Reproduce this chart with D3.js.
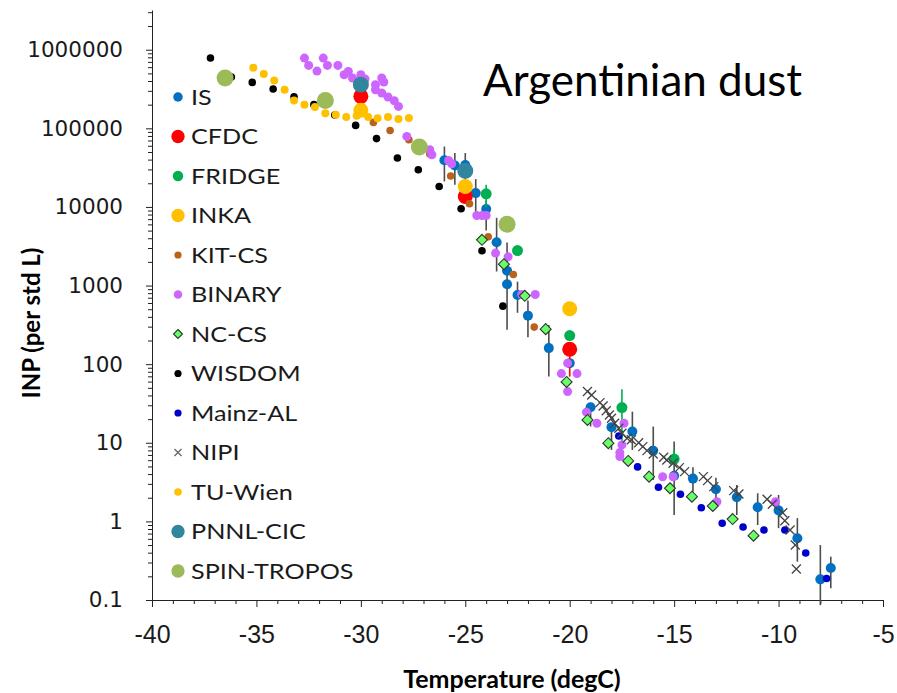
<!DOCTYPE html>
<html>
<head>
<meta charset="utf-8">
<script src="https://cdn.jsdelivr.net/npm/d3@7"></script>
<style>
  body { margin: 0; background: #fff; }
  svg { display: block; }
</style>
</head>
<body>
<div id="chart"></div>
<script>
// [temperature degC, INP per std L]
const isData = [[-26.0,39300],[-25.5,33700],[-25.0,34100],[-24.5,15000],[-24.0,9400],[-23.5,3550],[-23.0,1540],[-23.0,1040],[-22.5,760],[-22.0,414],[-21.0,160],[-20.0,103],[-19.0,28.3],[-18.0,15.8],[-17.0,13.9],[-16.0,7.9],[-15.0,3.8],[-14.1,3.5],[-13.0,2.57],[-12.0,2.03],[-11.0,1.51],[-10.0,1.38],[-9.1,0.61],[-8.0,0.183],[-7.5,0.255]];
// [temperature, low, high]
const isErr = [[-26.0,21100,58700],[-25.5,19100,48400],[-25.0,18000,48400],[-24.5,8350,22600],[-24.0,5000,12000],[-23.5,1510,7280],[-23.0,273,3520],[-22.5,450,1120],[-22.0,220,644],[-21.0,69.5,316],[-19.0,16.1,28.6],[-18.0,8.1,15.8],[-17.0,8.1,24.9],[-16.0,3.37,16.1],[-15.0,1.21,10.4],[-14.1,2.39,4.89],[-13.0,1.77,3.6],[-12.0,1.21,2.91],[-11.0,0.9,2.28],[-10.0,0.82,2.17],[-9.1,0.307,1.1],[-8.0,0.086,0.5],[-7.5,0.141,0.356]];
const cfdcData = [[-30.0,255000],[-25.0,13600],[-20.0,155]];
const cfdcErr = [[-20.0,69.5,155]];
const fridgeData = [[-24.0,14700],[-22.5,2790],[-20.0,231],[-17.5,28],[-15.0,6.2]];
const fridgeErr = [[-24.0,10000,19100],[-17.5,9.9,47.9],[-15.0,5.5,8.1]];
const inkaData = [[-30.0,170000],[-25.0,18200],[-20.0,506]];
const kitData = [[-29.4,119000],[-28.6,94000],[-27.7,71600],[-26.7,47100],[-25.7,24700],[-24.8,11000],[-23.9,4170],[-22.7,1380],[-21.7,296]];
const binaryData = [[-32.7,783000],[-32.5,631000],[-32.1,535000],[-31.8,783000],[-31.6,631000],[-31.1,631000],[-30.8,481000],[-30.6,530000],[-30.4,436000],[-30.0,481000],[-29.8,424000],[-29.3,359000],[-29.3,310000],[-29.0,436000],[-28.9,388000],[-29.0,281000],[-28.7,250000],[-28.4,224000],[-28.2,190000],[-27.8,78900],[-26.7,53300],[-26.6,46100],[-25.8,39000],[-25.65,35400],[-24.45,7780],[-24.2,7780],[-24.0,7780],[-23.55,2590],[-22.95,2320],[-22.3,769],[-21.65,769],[-20.1,103],[-20.4,75.9],[-19.65,75.9],[-20.1,44.8],[-19.2,24.5],[-18.7,17.7],[-17.4,17.7],[-17.5,9.4],[-17.6,7.5],[-17.6,6.7],[-15.55,3.7],[-15.05,3.7],[-12.95,1.78],[-10.15,1.78]];
const ncData = [[-24.2,3820],[-23.15,1870],[-22.15,740],[-21.15,279],[-20.15,59.4],[-19.15,19.5],[-18.15,9.87],[-17.2,5.87],[-16.2,3.71],[-15.2,2.64],[-14.15,2.06],[-13.15,1.57],[-12.2,1.07],[-11.2,0.658]];
const wisdomData = [[-37.2,783000],[-36.2,450000],[-35.2,384000],[-34.2,316000],[-33.2,252000],[-32.25,200000],[-31.25,148000],[-30.25,109000],[-29.25,74000],[-28.25,41900],[-27.25,29700],[-26.25,18200],[-25.2,9500],[-24.2,2770],[-23.2,547]];
const mainzData = [[-17.65,12.2],[-16.75,4.93],[-15.75,2.72],[-14.7,2.21],[-13.7,1.49],[-12.7,0.946],[-11.7,0.849],[-10.7,0.778],[-9.7,0.778],[-8.7,0.396],[-7.7,0.188]];
const nipiData = [[-19.15,44.8],[-18.95,40.6],[-18.55,32.4],[-18.4,29.4],[-18.25,25.6],[-18.1,22.6],[-18.0,20.5],[-17.85,17.7],[-17.65,15.3],[-17.5,13.2],[-17.25,11.4],[-17.05,10.9],[-16.7,10.0],[-16.5,8.93],[-16.3,7.94],[-16.0,7.21],[-15.5,6.55],[-15.35,6.05],[-15.05,5.5],[-14.75,4.83],[-14.5,4.3],[-13.6,3.71],[-13.4,3.3],[-13.1,2.77],[-12.15,2.46],[-11.9,2.23],[-10.55,1.91],[-10.3,1.65],[-9.8,1.29],[-9.7,1.02],[-9.45,0.778],[-9.2,0.501],[-9.15,0.248]];
const tuData = [[-35.15,590000],[-34.65,491000],[-34.15,407000],[-33.65,310000],[-33.2,226000],[-32.7,200000],[-32.2,187000],[-31.7,156000],[-31.2,149000],[-30.7,139000],[-30.2,144000],[-29.65,139000],[-29.2,134000],[-28.7,139000],[-28.2,131000],[-27.7,135000]];
const pnnlData = [[-30.0,359000],[-25.0,28800]];
const spinData = [[-36.5,437000],[-31.7,226000],[-27.2,57800],[-23.0,6010]];

const legendNames = ["IS","CFDC","FRIDGE","INKA","KIT-CS","BINARY","NC-CS","WISDOM","Mainz-AL","NIPI","TU-Wien","PNNL-CIC","SPIN-TROPOS"];
const xTicks = [-40,-35,-30,-25,-20,-15,-10,-5];
const yTicks = [0.1,1,10,100,1000,10000,100000,1000000];

const series = [
  {name:"IS", data:isData, err:isErr, errColor:"#4d4d4d", shape:"circle", r:5, fill:"#0070C0"},
  {name:"CFDC", data:cfdcData, err:cfdcErr, errColor:"#FF0000", shape:"circle", r:7.5, fill:"#FF0000"},
  {name:"FRIDGE", data:fridgeData, err:fridgeErr, errColor:"#00B050", shape:"circle", r:5.5, fill:"#00B050"},
  {name:"INKA", data:inkaData, shape:"circle", r:7.5, fill:"#FFC000"},
  {name:"KIT-CS", data:kitData, shape:"circle", r:3.8, fill:"#B8621B"},
  {name:"BINARY", data:binaryData, shape:"circle", r:4.5, fill:"#CC66FF"},
  {name:"NC-CS", data:ncData, shape:"diamond", r:5.5, fill:"#66FF66"},
  {name:"WISDOM", data:wisdomData, shape:"circle", r:3.8, fill:"#000000"},
  {name:"Mainz-AL", data:mainzData, shape:"circle", r:3.8, fill:"#0000CC"},
  {name:"NIPI", data:nipiData, shape:"cross", r:4.5, fill:"#444444"},
  {name:"TU-Wien", data:tuData, shape:"circle", r:4, fill:"#FFC000"},
  {name:"PNNL-CIC", data:pnnlData, shape:"circle", r:8, fill:"#31859C"},
  {name:"SPIN-TROPOS", data:spinData, shape:"circle", r:8.5, fill:"#9BBB59"}
];

const width = 897, height = 693;
const x = d3.scaleLinear().domain([-40, -5]).range([152, 883]);
const y = d3.scaleLog().domain([0.1, 3.2e6]).range([600, 10]);

const svg = d3.select("#chart").append("svg")
  .attr("width", width).attr("height", height)
  .style("font-family", "Lato, 'Open Sans', sans-serif");

function drawMarker(g, s, cx, cy, r) {
  if (s.shape === "circle") {
    g.append("circle").attr("cx", cx).attr("cy", cy).attr("r", r).attr("fill", s.fill);
  } else if (s.shape === "diamond") {
    g.append("path")
      .attr("d", `M${cx},${cy - r}L${cx + r},${cy}L${cx},${cy + r}L${cx - r},${cy}Z`)
      .attr("fill", s.fill).attr("stroke", "#333").attr("stroke-width", 1.1);
  } else {
    g.append("path")
      .attr("d", `M${cx - r},${cy - r}L${cx + r},${cy + r}M${cx + r},${cy - r}L${cx - r},${cy + r}`)
      .attr("stroke", s.fill).attr("stroke-width", 1.3).attr("fill", "none");
  }
}

// axes
const minorY = [];
for (let e = -1; e <= 6; e++) {
  for (let k = 2; k <= 9; k++) {
    const v = k * Math.pow(10, e);
    if (v <= 3.2e6) minorY.push(v);
  }
}
const minorX = d3.range(-40, -4, 1).filter(t => t % 5 !== 0);

svg.append("g").attr("transform", "translate(152,0)")
  .call(d3.axisLeft(y).tickValues(minorY).tickSize(4).tickSizeOuter(0).tickFormat(""))
  .call(g => g.select(".domain").remove());
svg.append("g").attr("transform", "translate(0,600)")
  .call(d3.axisBottom(x).tickValues(minorX).tickSize(4).tickSizeOuter(0).tickFormat(""))
  .call(g => g.select(".domain").remove());

const yAxis = svg.append("g").attr("transform", "translate(152,0)")
  .call(d3.axisLeft(y).tickValues(yTicks).tickSize(6).tickSizeOuter(0).tickPadding(23)
    .tickFormat(d => d < 1 ? "0.1" : String(d)));
yAxis.selectAll("text").style("font-family", "'DejaVu Sans', sans-serif")
  .attr("font-size", 21.5).attr("fill", "#1a1a1a");

const xAxis = svg.append("g").attr("transform", "translate(0,600)")
  .call(d3.axisBottom(x).tickValues(xTicks).tickSize(7).tickSizeOuter(0).tickPadding(18)
    .tickFormat(d => String(d)));
xAxis.selectAll("text").attr("font-size", 25).attr("fill", "#1a1a1a");

svg.selectAll(".domain, .tick line").attr("stroke", "#222").attr("stroke-width", 1);

// data
const plot = svg.append("g");
series.forEach(s => {
  const g = plot.append("g");
  (s.err || []).forEach(([t, lo, hi]) => {
    g.append("line")
      .attr("x1", x(t)).attr("x2", x(t))
      .attr("y1", y(lo)).attr("y2", y(hi))
      .attr("stroke", s.errColor).attr("stroke-width", 1.6);
  });
  s.data.forEach(([t, v]) => drawMarker(g, s, x(t), y(v), s.r));
});

// legend
const legend = svg.append("g");
legendNames.forEach((name, i) => {
  const s = series.find(d => d.name === name);
  const ly = 97 + i * 39.5;
  const lr = s.shape === "circle" ? Math.min(s.r, 7) * 0.95 : (s.shape === "cross" ? 3.5 : 4.5);
  drawMarker(legend, s.shape === "cross" ? {...s, fill: "#666"} : s, 178, ly, lr);
  legend.append("text")
    .attr("transform", `translate(191,${ly}) scale(1.2,1)`)
    .attr("dy", "0.36em")
    .attr("font-size", 21).attr("fill", "#1a1a1a").text(name);
});

// titles
svg.append("text").attr("x", 483).attr("y", 96)
  .attr("font-size", 44).attr("fill", "#000").text("Argentinian dust");

svg.append("text").attr("x", 512).attr("y", 688).attr("text-anchor", "middle")
  .attr("font-size", 25).attr("font-weight", "bold").attr("fill", "#000")
  .text("Temperature (degC)");

svg.append("text").attr("transform", "translate(40,323) rotate(-90)")
  .attr("text-anchor", "middle")
  .attr("font-size", 24).attr("font-weight", "bold").attr("fill", "#000")
  .text("INP (per std L)");
</script>
</body>
</html>
